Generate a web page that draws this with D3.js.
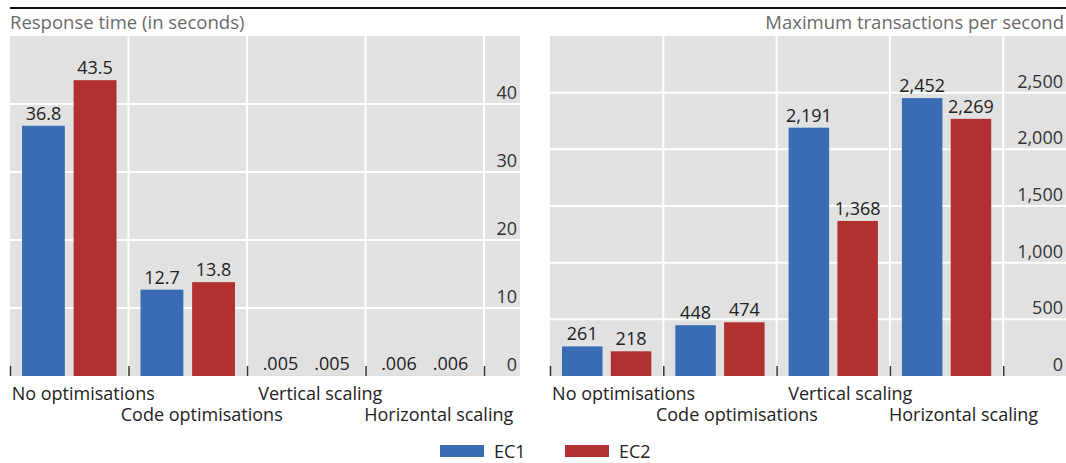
<!DOCTYPE html>
<html>
<head>
<meta charset="utf-8">
<script src="https://cdn.jsdelivr.net/npm/d3@7"></script>
<style>
  html, body { margin: 0; padding: 0; background: #fff; }
  svg { display: block; }
  text { font-family: "Open Sans", "Noto Sans", sans-serif; }
</style>
</head>
<body>
<svg id="chart" width="1066" height="463"></svg>
<script>
const categories = ["No optimisations", "Code optimisations", "Vertical scaling", "Horizontal scaling"];
const seriesNames = ["EC1", "EC2"];
const responseEC1 = [36.8, 12.7, 0.005, 0.006];
const responseEC2 = [43.5, 13.8, 0.005, 0.006];
const tpsEC1 = [261, 448, 2191, 2452];
const tpsEC2 = [218, 474, 1368, 2269];
const responseTicks = [0, 10, 20, 30, 40];
const tpsTicks = [0, 500, 1000, 1500, 2000, 2500];
const panelTitles = ["Response time (in seconds)", "Maximum transactions per second"];

const colors = { EC1: "#3a6cb4", EC2: "#b2302f" };
const svg = d3.select("#chart");

// top rule
svg.append("rect").attr("x", 10).attr("y", 7).attr("width", 1056).attr("height", 2).attr("fill", "#111");

const fmtResp = v => v < 1 ? d3.format(".3f")(v).replace(/^0/, "") : d3.format(".1f")(v);
const fmtTps = d3.format(",");

const panels = [
  { title: panelTitles[0], titleAnchor: "start", titleX: 10, grayX0: 10, grayX1: 520,
    bandStart: 10, bandW: 118.5, barInnerPad: 12, domainMax: 50, labelShift: 14,
    ticks: responseTicks, tickFmt: d3.format("d"),
    s1: responseEC1, s2: responseEC2, fmt: fmtResp },
  { title: panelTitles[1], titleAnchor: "end", titleX: 1064, grayX0: 550, grayX1: 1066,
    bandStart: 550, bandW: 113.3, barInnerPad: 12, domainMax: 3000, labelShift: 17,
    ticks: tpsTicks, tickFmt: d3.format(","),
    s1: tpsEC1, s2: tpsEC2, fmt: fmtTps }
];

const yTop = 36, yBot = 376;
const FS = 18;

panels.forEach(p => {
  const g = svg.append("g");
  g.append("text").attr("x", p.titleX).attr("y", 29).attr("text-anchor", p.titleAnchor)
    .attr("font-size", 18.5).attr("fill", "#6a6a6a").text(p.title);

  g.append("rect").attr("x", p.grayX0).attr("y", yTop).attr("width", p.grayX1 - p.grayX0)
    .attr("height", yBot - yTop).attr("fill", "#e1e1e1");

  const y = d3.scaleLinear().domain([0, p.domainMax]).range([yBot, yTop]);
  const x = d3.scaleBand().domain(categories)
    .range([p.bandStart, p.bandStart + p.bandW * categories.length]).padding(0);
  const xs = d3.scaleBand().domain(seriesNames)
    .range([p.barInnerPad, p.bandW - p.barInnerPad]).paddingInner(0.17);

  // horizontal gridlines
  g.selectAll(".hg").data(p.ticks.filter(t => t > 0)).join("line")
    .attr("x1", p.grayX0).attr("x2", p.grayX1)
    .attr("y1", d => y(d)).attr("y2", d => y(d))
    .attr("stroke", "#fff").attr("stroke-width", 2);

  // vertical gridlines at category boundaries
  const bounds = categories.map(c => x(c) + x.bandwidth());
  g.selectAll(".vg").data(bounds).join("line")
    .attr("x1", d => d).attr("x2", d => d).attr("y1", yTop).attr("y2", yBot)
    .attr("stroke", "#fff").attr("stroke-width", 2);

  // bars
  const rows = categories.map((c, i) => ({ c, vals: [
    { s: "EC1", v: p.s1[i] }, { s: "EC2", v: p.s2[i] } ] }));
  const cg = g.selectAll(".cat").data(rows).join("g")
    .attr("transform", d => `translate(${x(d.c)},0)`);
  cg.selectAll("rect").data(d => d.vals).join("rect")
    .attr("x", d => xs(d.s)).attr("width", xs.bandwidth())
    .attr("y", d => y(d.v)).attr("height", d => yBot - y(d.v))
    .attr("fill", d => colors[d.s]);
  cg.selectAll("text").data(d => d.vals).join("text")
    .attr("x", d => xs(d.s) + xs.bandwidth() / 2)
    .attr("y", d => y(d.v) - 6)
    .attr("text-anchor", "middle").attr("font-size", FS).attr("fill", "#222")
    .text(d => p.fmt(d.v));

  // bottom tick marks at category boundaries
  const tickXs = [p.bandStart].concat(bounds);
  g.selectAll(".bt").data(tickXs).join("line")
    .attr("x1", d => d + 0.5).attr("x2", d => d + 0.5).attr("y1", yBot - 10).attr("y2", yBot)
    .attr("stroke", "#333").attr("stroke-width", 1.5);

  // y tick labels on right
  g.selectAll(".yl").data(p.ticks).join("text")
    .attr("x", p.grayX1 - 3).attr("y", d => y(d) - 5)
    .attr("text-anchor", "end").attr("font-size", FS).attr("fill", "#333")
    .text(d => p.tickFmt(d));

  // category labels, staggered
  g.selectAll(".cl").data(categories).join("text")
    .attr("x", d => x(d) + x.bandwidth() / 2 + p.labelShift)
    .attr("y", (d, i) => i % 2 === 0 ? 400 : 421)
    .attr("text-anchor", "middle").attr("font-size", FS).attr("fill", "#222")
    .text(d => d);
});

// legend
const legendX = [440, 565];
const lg = svg.selectAll(".lg").data(seriesNames).join("g")
  .attr("transform", (d, i) => `translate(${legendX[i]},445)`);
lg.append("rect").attr("width", 44).attr("height", 12).attr("fill", d => colors[d]);
lg.append("text").attr("x", 54).attr("y", 13).attr("font-size", FS).attr("fill", "#222").text(d => d);
</script>
</body>
</html>
